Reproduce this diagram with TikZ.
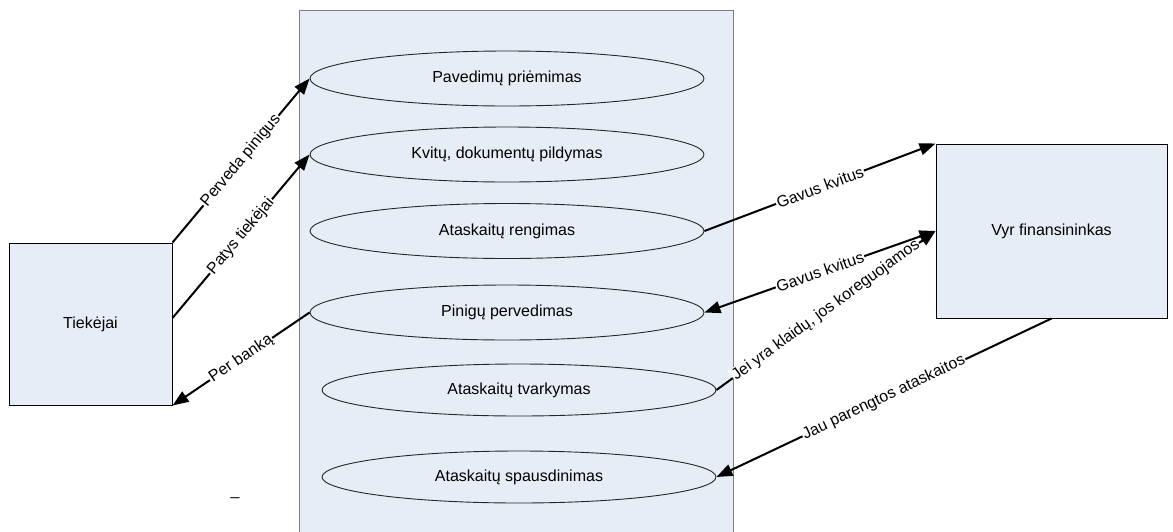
\documentclass[tikz,border=0pt]{standalone}
\usepackage{fontspec}
\setmainfont{Liberation Sans}
\usetikzlibrary{shapes.geometric,arrows.meta,calc}
\definecolor{panel}{RGB}{231,237,247}
\begin{document}
\begin{tikzpicture}[x=1pt,y=-1pt,
  every node/.style={font=\fontsize{16}{19}\selectfont},
  usecase/.style={draw=black!85, line width=0.9pt, ellipse, minimum width=394pt, minimum height=55pt, inner sep=0pt},
  actor/.style={draw=black, line width=1pt, fill=panel, rectangle, inner sep=0pt},
  flow/.style={line width=2pt, -{Triangle[length=16pt,width=12pt]}},
  biflow/.style={line width=2pt, {Triangle[length=16pt,width=12pt]}-{Triangle[length=16pt,width=12pt]}},
  lbl/.style={fill=white, inner sep=1pt, sloped, midway}]
\useasboundingbox (0,0) rectangle (1173,531);

% system boundary
\node[draw=black!50, line width=1.3pt, fill=panel, minimum width=434pt, minimum height=535pt,
      inner sep=0pt, anchor=north west] (sys) at (299,10) {};

% use cases
\node[usecase] (e1) at (507,78.5) {Pavedimų priėmimas};
\node[usecase] (e2) at (507,154.5) {Kvitų, dokumentų pildymas};
\node[usecase] (e3) at (507,231) {Ataskaitų rengimas};
\node[usecase] (e4) at (507,312.5) {Pinigų pervedimas};
\node[usecase, minimum height=52pt] (e5) at (519,390) {Ataskaitų tvarkymas};
\node[usecase, minimum height=52pt] (e6) at (519,477) {Ataskaitų spausdinimas};

% actors
\node[actor, minimum width=163pt, minimum height=162pt] (t) at (90.5,324) {Tiekėjai};
\node[actor, minimum width=231pt, minimum height=174pt] (v) at (1051.5,231) {Vyr finansininkas};

\node (dash) at (235,497) {\_};

% flows
\draw[flow] (t.north east) -- (e1.west) node[lbl] {Perveda pinigus};
\draw[flow] ([yshift=6pt]t.east) -- (e2.west) node[lbl] {Patys tiekėjai};
\draw[flow] (e4.west) -- (t.south east) node[lbl] {Per banką};
\draw[flow] (e3.east) -- (v.north west) node[lbl] {Gavus kvitus};
\draw[flow] (e5.east) -- (v.west) node[lbl] {Jei yra klaidų, jos koreguojamos};
\draw[biflow] (e4.east) -- (v.west) node[lbl] {Gavus kvitus};
\draw[flow] (v.south) -- (e6.east) node[lbl] {Jau parengtos ataskaitos};
\end{tikzpicture}
\end{document}
